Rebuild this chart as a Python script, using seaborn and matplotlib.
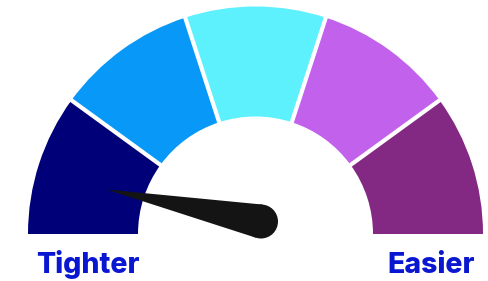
import numpy as np
import matplotlib
matplotlib.use("Agg")
import matplotlib.pyplot as plt
from matplotlib.patches import Wedge, Polygon, Circle
import seaborn as sns

# ---- data ----
segments = ["Very tight", "Tight", "Neutral", "Easy", "Very easy"]
segment_sizes = [1, 1, 1, 1, 1]
segment_colors = ["#000078", "#0899f8", "#5df0fd", "#c161ec", "#832883"]
needle_value = 0.065          # 0 = tightest (left), 1 = easiest (right)
end_labels = ["Tighter", "Easier"]

sns.set_theme(style="white")
plt.rcParams["font.family"] = ["Inter", "DejaVu Sans"]

W, H = 488, 281
fig = plt.figure(figsize=(W / 100, H / 100), dpi=100)
ax = fig.add_axes([0, 0, 1, 1])
ax.set_xlim(0, W)
ax.set_ylim(0, H)
ax.set_aspect("equal")
ax.axis("off")

def P(y):
    return H - y

cx, cy = 255.5, P(234)
r_out, r_in = 227.5, 117.5

total = sum(segment_sizes)
start = 180.0
for size, col in zip(segment_sizes, segment_colors):
    span = 180.0 * size / total
    ax.add_patch(Wedge((cx, cy), r_out, start - span, start, width=r_out - r_in,
                       facecolor=col, edgecolor="none"))
    start -= span

# separators
start = 180.0
for size in segment_sizes[:-1]:
    start -= 180.0 * size / total
    a = np.deg2rad(start)
    ax.plot([cx + (r_in - 2) * np.cos(a), cx + (r_out + 2) * np.cos(a)],
            [cy + (r_in - 2) * np.sin(a), cy + (r_out + 2) * np.sin(a)],
            color="white", lw=3.0, solid_capstyle="butt")

# needle
ang = np.deg2rad(180.0 - 180.0 * needle_value)
bx, by = 261.0, P(221.5)
br = 17.0
length = 158.0
tx, ty = bx + length * np.cos(ang), by + length * np.sin(ang)
phi = np.arcsin(br / length)
pts = [(bx + br * np.cos(ang + s * (np.pi / 2 - phi)),
        by + br * np.sin(ang + s * (np.pi / 2 - phi))) for s in (1, -1)]
needle_col = "#141414"
ax.add_patch(Polygon([(tx, ty), pts[0], (bx, by), pts[1]], closed=True,
                     facecolor=needle_col, edgecolor="none"))
ax.add_patch(Circle((bx, by), br, facecolor=needle_col, edgecolor="none"))

txt_col = "#0a17d1"
ax.text(88, P(273), end_labels[0], ha="center", va="baseline", fontsize=20.5,
        fontweight="heavy", color=txt_col)
ax.text(431.5, P(273), end_labels[1], ha="center", va="baseline", fontsize=20.5,
        fontweight="heavy", color=txt_col)

fig.savefig("out.png", dpi=100)
